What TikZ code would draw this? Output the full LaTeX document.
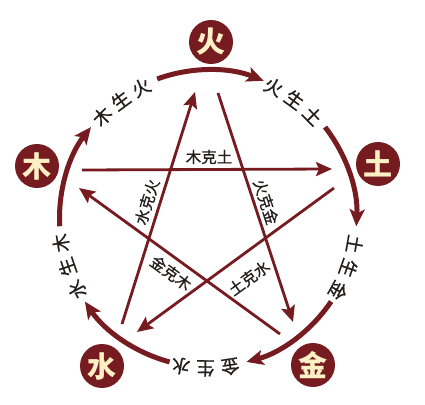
\documentclass[tikz,border=0pt]{standalone}
\usepackage{fontspec}
\setmainfont{Noto Sans CJK SC}
\newfontfamily\lblfont{Noto Sans CJK SC}[FakeBold=0.7]
\usetikzlibrary{arrows.meta,calc}
\definecolor{wxred}{RGB}{118,28,32}
\definecolor{wxcream}{RGB}{252,240,196}
\definecolor{wxtext}{RGB}{35,28,28}
\begin{document}
\begin{tikzpicture}[x=1pt,y=1pt,
  elem/.style={circle, fill=wxred, minimum size=44pt, inner sep=0pt, text=wxcream,
    font=\fontsize{29}{29}\selectfont\bfseries},
  ring/.style={draw=wxred, line width=5pt, -{Stealth[length=17pt,width=15pt,inset=4pt]}},
  kearrow/.style={draw=wxred, line width=2.8pt, -{Stealth[length=16pt,width=14pt,inset=3pt]}},
  shenglbl/.style={text=wxtext, inner sep=0pt, font=\lblfont\fontsize{18.5}{18.5}\selectfont},
  kelbl/.style={text=wxtext, inner sep=0pt, font=\lblfont\fontsize{15.5}{15.5}\selectfont}]
\useasboundingbox (0,0) rectangle (425,404);
\fill[white] (0,0) rectangle (425,404);
\coordinate (O) at (208,185.5);

% element circles
\node[elem] (huo)  at (211,362) {火};
\node[elem] (mu)   at (37,238)  {木};
\node[elem] (tu)   at (378,240) {土};
\node[elem] (shui) at (102,38)  {水};
\node[elem] (jin)  at (313,39)  {金};

% generating cycle (ring arcs)
\foreach \n/\s/\e in {a/110/68, b/38/-3, c/-34/-75, d/-105/-146, e/-177/-218}{
  \coordinate (r\n) at ($(O)+(\s:148.5)$);
  \draw[ring] (r\n) arc[start angle=\s, end angle=\e, radius=148.5];
}

% ring labels, one character at a time along the circle
\foreach \n/\phi/\r/\ca/\cb/\cc in {
   mh/126.5/147/木/生/火,
   ht/54/147/火/生/土,
   tj/-19.5/149/土/生/金,
   js/-91/150/金/生/水,
   sm/-161/149/水/生/木}{
  \node[shenglbl, rotate=\phi+9.5-90] (\n1) at ($(O)+(\phi+9.5:\r)$) {\ca};
  \node[shenglbl, rotate=\phi-90]     (\n2) at ($(O)+(\phi:\r)$) {\cb};
  \node[shenglbl, rotate=\phi-9.5-90] (\n3) at ($(O)+(\phi-9.5:\r)$) {\cc};
}

% controlling cycle (star)
\coordinate (k1s) at (82,234);  \coordinate (k1e) at (332,235);
\coordinate (k2s) at (334,216); \coordinate (k2e) at (137,72);
\coordinate (k3s) at (122,80);  \coordinate (k3e) at (195,312);
\coordinate (k4s) at (218,311); \coordinate (k4e) at (293,82);
\coordinate (k5s) at (280,70);  \coordinate (k5e) at (79,216);
\draw[kearrow] (k1s) -- (k1e);
\draw[kearrow] (k2s) -- (k2e);
\draw[kearrow] (k3s) -- (k3e);
\draw[kearrow] (k4s) -- (k4e);
\draw[kearrow] (k5s) -- (k5e);

\node[kelbl] (l1) at (209,247) {木克土};
\node[kelbl, rotate=72.5] (l3) at (147,202) {水克火};
\node[kelbl, rotate=-72]  (l4) at (266,202) {火克金};
\node[kelbl, rotate=-36]  (l5) at (171,131) {金克木};
\node[kelbl, rotate=36]   (l2) at (249,126) {土克水};
\end{tikzpicture}
\end{document}
